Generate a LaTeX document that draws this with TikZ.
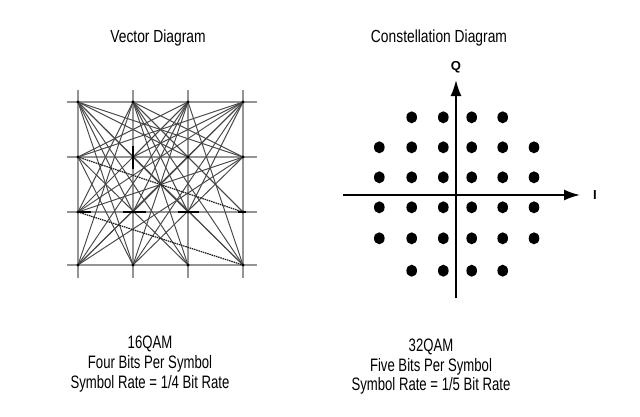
\documentclass[tikz,border=0pt]{standalone}
\usepackage{fontspec}
\setmainfont{Liberation Sans}
\newfontfamily\ttlfont[FakeStretch=0.79]{Liberation Sans}
\newfontfamily\capfont[FakeStretch=0.73]{Liberation Sans}
\usetikzlibrary{arrows.meta}
\begin{document}
\begin{tikzpicture}[x=1pt,y=-1pt,
  gridline/.style={draw=black!42,line width=1.2pt},
  vec/.style={draw=black!72,line width=0.95pt},
  vecdot/.style={draw=black!90,line width=1.2pt,dash pattern=on 1.5pt off 0.8pt},
  tickmk/.style={draw=black,line width=1.8pt},
  axis/.style={draw=black,line width=1.9pt,-{Latex[length=16pt,width=11pt]}},
  sym/.style={fill=black,draw=none},
  ttl/.style={font=\ttlfont\fontsize{17.5}{20}\selectfont,anchor=base},
  captxt/.style={font=\capfont\fontsize{18}{20}\selectfont,anchor=base},
  axl/.style={font=\bfseries\fontsize{13}{14}\selectfont}]
\useasboundingbox[fill=white] (0,0) rectangle (640,416);

% titles
\node[ttl] (t1) at (158,42) {Vector Diagram};
\node[ttl] (t2) at (439,42) {Constellation Diagram};

% ---------- vector diagram ----------
\foreach \i/\x in {0/78,1/133,2/188,3/243}{
  \foreach \j/\y in {0/102,1/157,2/212,3/265}{
    \coordinate (p\i\j) at (\x,\y);
  }
}
\foreach \x in {78,133,188,243} \draw[gridline] (\x,90) -- (\x,278);
\foreach \y in {102,157,212,265} \draw[gridline] (67,\y) -- (257,\y);

\foreach \a/\b in {
  p00/p31,p00/p21,p00/p22,p00/p12,p00/p13,p00/p23,p00/p33,
  p10/p31,p10/p21,p10/p32,p10/p22,p10/p03,p10/p23,p10/p02,p10/p33,
  p20/p01,p20/p11,p20/p02,p20/p12,p20/p03,p20/p13,p20/p33,
  p30/p01,p30/p11,p30/p02,p30/p12,p30/p03,p30/p13,p30/p22,
  p01/p13,p31/p03,p31/p13,p21/p03,p11/p33,p31/p02,p01/p23,
  p21/p32}
  \draw[vec] (\a) -- (\b);
\draw[vecdot] (p01) -- (p32);
\draw[vecdot] (p02) -- (p33);

% thick marks
\draw[tickmk] (133,146) -- (133,169);
\draw[tickmk] (78,212) -- (91,212);
\draw[tickmk] (123,212) -- (146,212);
\draw[tickmk] (178,212) -- (199,212);
\draw[tickmk] (238,212) -- (246,212);
\foreach \i in {0,1,2,3}{\foreach \j in {0,1,2,3}{\fill (p\i\j) circle (1.6pt);}}

% ---------- constellation ----------
\coordinate (o) at (456,195);
\coordinate (xs) at (343,195);
\coordinate (xe) at (580,195);
\coordinate (ys) at (456,298);
\coordinate (ye) at (456,80);
\draw[axis] (xs) -- (xe);
\draw[axis] (ys) -- (ye);
\node[axl] (q) at (456,67) {Q};
\node[axl] (ilab) at (595,195) {I};

\foreach \y in {147.3,177.3,207.3,238.3}{
  \foreach \x in {379.3,411.7,443.3,471.7,502.7,534}{
    \fill[sym] (\x,\y) ellipse [x radius=5.3pt,y radius=6pt];
  }
}
\foreach \y in {117.3,270.7}{
  \foreach \x in {411.7,443.3,471.7,502.7}{
    \fill[sym] (\x,\y) ellipse [x radius=5.3pt,y radius=6pt];
  }
}

% captions
\node[captxt] (a1) at (150,348) {16QAM};
\node[captxt] (a2) at (150,368) {Four Bits Per Symbol};
\node[captxt] (a3) at (150,388) {Symbol Rate = 1/4 Bit Rate};
\node[captxt] (b1) at (431,351) {32QAM};
\node[captxt] (b2) at (431,371) {Five Bits Per Symbol};
\node[captxt] (b3) at (431,390) {Symbol Rate = 1/5 Bit Rate};
\end{tikzpicture}
\end{document}
